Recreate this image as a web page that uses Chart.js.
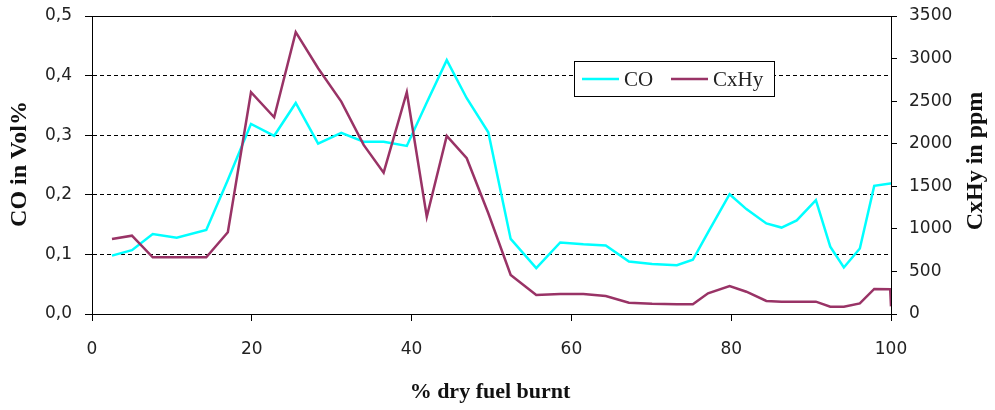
<!DOCTYPE html>
<html>
<head>
<meta charset="utf-8">
<script src="https://cdn.jsdelivr.net/npm/chart.js@4"></script>
<style>
  html, body { margin: 0; padding: 0; background: #fff; }
  #wrap { width: 995px; height: 410px; position: relative; }
</style>
</head>
<body>
<div id="wrap"><canvas id="emChart"></canvas></div>
<script>
/* ── DATA ───────────────────────────────────── */
const fuelBurnt = [2.5, 5.0, 7.6, 10.6, 14.3, 17.0, 19.9, 22.8, 25.5, 28.3,
                   31.2, 34.0, 36.5, 39.4, 41.9, 44.4, 46.9, 49.6, 52.4, 55.6,
                   58.6, 61.5, 64.3, 67.2, 70.1, 73.2, 75.2, 77.1, 79.8, 81.9,
                   84.4, 86.3, 88.2, 90.6, 92.4, 94.1, 96.1, 97.9, 99.9, 100];
const coVol = [0.098, 0.107, 0.134, 0.128, 0.141, 0.225, 0.319, 0.299, 0.354, 0.286,
               0.304, 0.289, 0.289, 0.282, 0.355, 0.426, 0.362, 0.305, 0.126, 0.077,
               0.120, 0.117, 0.115, 0.088, 0.084, 0.082, 0.091, 0.137, 0.201, 0.176,
               0.152, 0.145, 0.157, 0.191, 0.113, 0.078, 0.110, 0.215, 0.219, 0.219];
const cxhyPpm = [881, 920, 666, 666, 666, 960, 2605, 2311, 3310, 2887,
                 2495, 1986, 1660, 2605, 1143, 2092, 1829, 1183, 458, 223,
                 235, 235, 211, 133, 120, 114, 114, 243, 329, 262,
                 153, 145, 145, 145, 86, 86, 125, 294, 290, 90];
const xTitle = '% dry fuel burnt';
const yTitle = 'CO in Vol%';
const y2Title = 'CxHy in ppm';

const toXY = vals => vals.map((v, i) => ({ x: fuelBurnt[i], y: v }));

/* ── DEFAULTS ───────────────────────────────── */
Chart.defaults.font.family = "'DejaVu Sans', sans-serif";
Chart.defaults.font.size = 17;
Chart.defaults.color = '#222';
const tickFont = { family: "'DejaVu Sans', sans-serif", size: 17 };

// fixed axis boxes, no label overhang so the plot area sits where it should
const fixV = w => s => { s.width = w; s.paddingTop = 0; s.paddingBottom = 0; };

/* ── FRAME, TITLES, LEGEND ──────────────────── */
const decor = {
    id: 'decor',
    afterDraw(chart) {
        const { ctx, chartArea: a } = chart;
        ctx.save();
        // top frame line
        ctx.strokeStyle = '#000'; ctx.lineWidth = 1;
        ctx.beginPath();
        ctx.moveTo(a.left, Math.round(a.top) + 0.5);
        ctx.lineTo(a.right, Math.round(a.top) + 0.5);
        ctx.stroke();

        // axis titles
        ctx.fillStyle = '#111';
        ctx.textAlign = 'center'; ctx.textBaseline = 'middle';
        ctx.font = "bold 22px 'Liberation Serif', serif";
        ctx.fillText(xTitle, 490, 392);
        ctx.font = "bold 24px 'Liberation Serif', serif";
        ctx.save();
        ctx.translate(20, 164); ctx.rotate(-Math.PI / 2);
        ctx.fillText(yTitle, 0, 0);
        ctx.restore();
        ctx.save();
        ctx.translate(976, 161); ctx.rotate(-Math.PI / 2);
        ctx.fillText(y2Title, 0, 0);
        ctx.restore();

        // legend box
        const bx = 574.5, by = 61.5, bw = 200, bh = 35, ly = 79;
        ctx.fillStyle = '#fff';
        ctx.fillRect(bx, by, bw, bh);
        ctx.strokeStyle = '#000'; ctx.lineWidth = 1;
        ctx.strokeRect(bx, by, bw, bh);
        const ds = chart.data.datasets;
        ctx.lineWidth = 2.5;
        ctx.strokeStyle = ds[0].borderColor;
        ctx.beginPath(); ctx.moveTo(582, ly); ctx.lineTo(619, ly); ctx.stroke();
        ctx.strokeStyle = ds[1].borderColor;
        ctx.beginPath(); ctx.moveTo(671, ly); ctx.lineTo(708, ly); ctx.stroke();
        ctx.fillStyle = '#222';
        ctx.textAlign = 'left';
        ctx.font = "21px 'Liberation Serif', serif";
        ctx.fillText(ds[0].label, 624, ly + 1);
        ctx.fillText(ds[1].label, 713, ly + 1);
        ctx.restore();
    }
};

/* ── CHART ──────────────────────────────────── */
new Chart(document.getElementById('emChart'), {
    type: 'scatter',
    data: {
        datasets: [
            {
                label: 'CO',
                data: toXY(coVol),
                yAxisID: 'y',
                borderColor: '#00FFFF', backgroundColor: '#00FFFF',
                borderWidth: 2.5, showLine: true, tension: 0,
                pointRadius: 0, order: 1,
            },
            {
                label: 'CxHy',
                data: toXY(cxhyPpm),
                yAxisID: 'y2',
                borderColor: '#993366', backgroundColor: '#993366',
                borderWidth: 2.5, showLine: true, tension: 0,
                pointRadius: 0, order: 0,
            }
        ]
    },
    options: {
        responsive: true, maintainAspectRatio: false, animation: false,
        layout: { padding: { top: 16, left: 0, right: 0, bottom: 0 } },
        plugins: { legend: { display: false }, tooltip: { enabled: false } },
        scales: {
            x: {
                type: 'linear', min: 0, max: 100,
                ticks: { stepSize: 20, font: tickFont, padding: 18, maxRotation: 0 },
                grid: { drawOnChartArea: false, color: '#000', tickLength: 7 },
                border: { color: '#000', width: 1 },
                afterFit: s => { s.height = 96; }
            },
            y: {
                position: 'left', min: 0, max: 0.5,
                ticks: { stepSize: 0.1, font: tickFont, padding: 13,
                         callback: v => v.toFixed(1).replace('.', ',') },
                grid: { color: '#000', lineWidth: 1, tickLength: 7 },
                border: { color: '#000', width: 1, dash: [4, 3] },
                afterFit: fixV(92)
            },
            y2: {
                position: 'right', min: 0, max: 3500,
                ticks: { stepSize: 500, font: tickFont, padding: 12,
                         callback: v => String(v) },
                grid: { drawOnChartArea: false, color: '#000', tickLength: 6 },
                border: { color: '#000', width: 1 },
                afterFit: fixV(104)
            }
        }
    },
    plugins: [decor]
});
</script>
</body>
</html>
